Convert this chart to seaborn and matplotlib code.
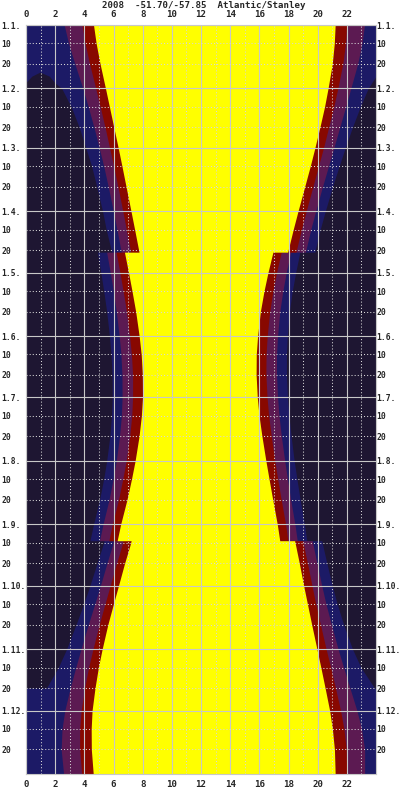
import pandas as pd
import seaborn as sns
import matplotlib
matplotlib.use("Agg")
import matplotlib.pyplot as plt

sns.set_style("white")
plt.rcParams['font.family'] = ['DejaVu Sans Mono']
plt.rcParams['font.weight'] = 'bold'

#%% twilight table: day of year 2008, local clock hours (DST jump on 112 and 253)
days = [1, 10, 20, 32, 41, 51, 61, 70, 80, 92, 101, 112, 112, 122, 131, 141, 153, 162, 172, 183,
        192, 202, 214, 223, 233, 245, 253, 253, 255, 264, 275, 284, 294, 306, 315, 325, 336, 345, 355, 367]
naut_dawn = [2.62, 2.92, 3.35, 3.90, 4.27, 4.66, 5.02, 5.33, 5.64, 5.99, 6.24, 6.53, 5.53, 5.78, 5.99, 6.19, 6.39, 6.51, 6.58, 6.59,
             6.54, 6.41, 6.19, 5.97, 5.69, 5.28, 5.04, 6.00, 5.94, 5.55, 5.10, 4.71, 4.27, 3.77, 3.41, 3.03, 2.66, 2.47, 2.41, 2.58]
civil_dawn = [3.84, 4.05, 4.36, 4.78, 5.09, 5.42, 5.73, 6.01, 6.30, 6.64, 6.88, 7.18, 6.18, 6.44, 6.66, 6.89, 7.10, 7.23, 7.31, 7.31,
              7.25, 7.11, 6.87, 6.63, 6.34, 5.92, 5.68, 6.65, 6.59, 6.21, 5.77, 5.41, 5.02, 4.59, 4.29, 4.02, 3.78, 3.68, 3.68, 3.82]
sunrise = [4.63, 4.81, 5.08, 5.45, 5.72, 6.02, 6.32, 6.58, 6.86, 7.20, 7.45, 7.75, 6.75, 7.03, 7.27, 7.52, 7.76, 7.90, 7.98, 7.99,
           7.91, 7.75, 7.48, 7.23, 6.92, 6.49, 6.25, 7.21, 7.14, 6.76, 6.34, 5.99, 5.61, 5.22, 4.96, 4.73, 4.53, 4.47, 4.48, 4.61]
sunset = [21.20, 21.14, 21.00, 20.71, 20.47, 20.15, 19.81, 19.49, 19.11, 18.65, 18.32, 17.94, 16.93, 16.59, 16.32, 16.07, 15.88, 15.79, 15.78, 15.86,
          15.98, 16.18, 16.45, 16.67, 16.92, 17.23, 17.40, 18.42, 18.48, 18.74, 19.04, 19.30, 19.59, 19.95, 20.22, 20.51, 20.82, 21.01, 21.15, 21.20]
civil_dusk = [21.99, 21.91, 21.72, 21.38, 21.10, 20.75, 20.40, 20.05, 19.67, 19.21, 18.88, 18.51, 17.50, 17.18, 16.93, 16.71, 16.54, 16.46, 16.45, 16.53,
              16.64, 16.82, 17.06, 17.26, 17.50, 17.80, 17.96, 18.98, 19.03, 19.30, 19.61, 19.87, 20.19, 20.58, 20.89, 21.22, 21.57, 21.80, 21.96, 21.99]
naut_dusk = [23.21, 23.04, 22.74, 22.27, 21.92, 21.51, 21.11, 20.74, 20.33, 19.86, 19.52, 19.16, 18.15, 17.84, 17.61, 17.40, 17.25, 17.18, 17.18, 17.25,
             17.35, 17.51, 17.74, 17.93, 18.15, 18.44, 18.60, 19.62, 19.68, 19.95, 20.28, 20.57, 20.94, 21.40, 21.78, 22.21, 22.69, 23.01, 23.22, 23.22]

# night before dawn (left side)
dawn_days = [24, 26, 29, 32, 41, 51, 61, 70, 80, 92, 101, 112, 112, 122, 131, 141, 153, 162, 172, 183,
             192, 202, 214, 223, 233, 245, 253, 253, 255, 264, 275, 284, 294, 306, 315, 325]
night_from = [0.96, 0.40] + [0.0] * 34
astro_dawn = [0.96, 1.60, 1.95, 2.45, 3.10, 3.65, 4.10, 4.50, 4.85, 5.25, 5.50, 5.88, 4.90, 5.13, 5.33, 5.53, 5.72, 5.83, 5.90, 5.91,
              5.86, 5.75, 5.53, 5.32, 5.04, 4.63, 4.38, 5.35, 5.28, 4.87, 4.38, 3.95, 3.43, 2.78, 2.21, 1.40]

# night after dusk (right side)
dusk_days = [26, 32, 41, 51, 61, 70, 80, 92, 101, 112, 112, 122, 131, 141, 153, 162, 172, 183,
             192, 202, 214, 223, 233, 245, 253, 253, 255, 264, 275, 284, 294, 306, 315, 325]
astro_dusk = [24.0, 23.46, 22.92, 22.38, 21.89, 21.47, 21.02, 20.52, 20.17, 19.80, 18.78, 18.49, 18.26, 18.06, 17.92, 17.86, 17.86, 17.93,
              18.03, 18.18, 18.39, 18.58, 18.80, 19.09, 19.26, 20.28, 20.34, 20.63, 21.00, 21.34, 21.78, 22.39, 22.97, 23.90]

month_days = [1, 32, 61, 92, 122, 153, 183, 214, 245, 275, 306, 336]
month_labels = ["1.%d." % m for m in range(1, 13)]

df = pd.DataFrame({"day": days, "naut_dawn": naut_dawn, "civil_dawn": civil_dawn, "sunrise": sunrise,
                   "sunset": sunset, "civil_dusk": civil_dusk, "naut_dusk": naut_dusk})
night_l = pd.DataFrame({"day": dawn_days, "start": night_from, "end": astro_dawn})
night_r = pd.DataFrame({"day": dusk_days, "start": astro_dusk})

NIGHT, ASTRO, NAUT, CIVIL, DAY = "#1e1632", "#1c1a66", "#5c1a52", "#880800", "#ffff00"

#%%
fig = plt.figure(figsize=(4, 8), dpi=100)
ax = fig.add_axes([0.065, 0.0325, 0.875, 0.93625])
ax.set_facecolor(ASTRO)
kw = dict(linewidth=0, antialiased=False, zorder=1)
ax.fill_betweenx(night_l["day"], night_l["start"], night_l["end"], color=NIGHT, **kw)
ax.fill_betweenx(night_r["day"], night_r["start"], 24, color=NIGHT, **kw)
ax.fill_betweenx(df["day"], df["naut_dawn"], df["naut_dusk"], color=NAUT, **kw)
ax.fill_betweenx(df["day"], df["civil_dawn"], df["civil_dusk"], color=CIVIL, **kw)
ax.fill_betweenx(df["day"], df["sunrise"], df["sunset"], color=DAY, **kw)

ax.set_xlim(0, 24)
ax.set_ylim(367, 1)
ax.set_xticks(range(0, 24, 2))
ax.set_xticks(range(1, 24, 2), minor=True)
minor_days = [d + k for d in month_days for k in (9, 19)]
minor_labels = ["10", "20"] * 12
ax.set_yticks(month_days, labels=month_labels)
ax.set_yticks(minor_days, labels=minor_labels, minor=True)
ax.set_axisbelow(False)
ax.grid(which="major", color="#c8c8c8", linewidth=0.8)
ax.grid(which="minor", color="#d8d8d8", linewidth=0.75, linestyle=(0, (1, 2)))
ax.tick_params(axis="x", which="both", length=0, top=True, labeltop=True, labelsize=6.6, pad=4.5)
ax.tick_params(axis="y", which="both", length=0, labelsize=5.8, pad=18)
for lab in ax.get_yticklabels(which="both"):
    lab.set_horizontalalignment("left")
for s in ax.spines.values():
    s.set_color("#c8c8c8")

ax2 = ax.twinx()
ax2.set_ylim(367, 1)
ax2.set_yticks(month_days, labels=month_labels)
ax2.set_yticks(minor_days, labels=minor_labels, minor=True)
ax2.tick_params(axis="y", which="both", length=0, labelsize=5.8, pad=0.5)
ax2.grid(False)
for s in ax2.spines.values():
    s.set_visible(False)

fig.text(0.51, 0.9935, "2008  -51.70/-57.85  Atlantic/Stanley", ha="center", va="center", fontsize=6.6)
fig.savefig("out.png", dpi=100)
